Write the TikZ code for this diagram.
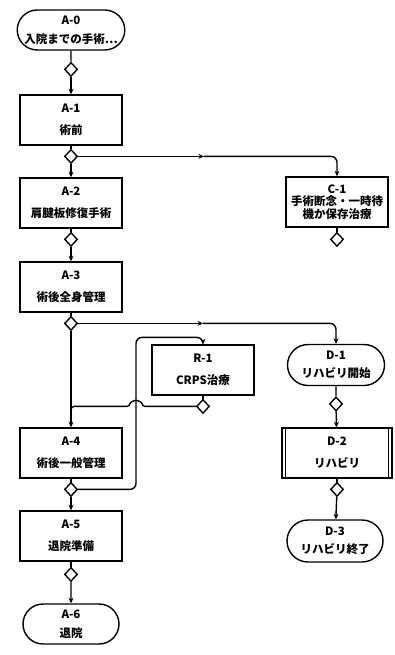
\documentclass[tikz,border=0pt]{standalone}
\usepackage{fontspec}
\setmainfont{Noto Sans CJK JP}
\usepackage{tikz}
\usetikzlibrary{arrows.meta,positioning,calc,shapes}
\tikzset{
  >={Stealth[length=5.5pt,width=5pt]},
  task/.style={rectangle, draw, line width=1.4pt, minimum width=102pt, minimum height=50pt, align=center, inner sep=1pt},
  term/.style={rounded rectangle, draw, line width=1.4pt, minimum width=98pt, minimum height=40pt, align=center, inner sep=1pt},
  gate/.style={diamond, draw, line width=1.4pt, fill=white, inner sep=0pt, minimum width=13pt, minimum height=14pt},
  flow/.style={line width=1.4pt}
}

\begin{document}
\begin{tikzpicture}[x=1pt, y=1pt, node distance=83pt, font=\fontsize{11.5}{13}\selectfont\bfseries]
\useasboundingbox (0,0) rectangle (395,-655);

% main column
\node (a0) [term] at (71,-30) {A-0\\[6pt]入院までの手術…};
\node (a1) [task, below of=a0, yshift=-7pt] {A-1\\[9pt]術前};
\node (a2) [task, below of=a1] {A-2\\[9pt]肩腱板修復手術};
\node (a3) [task, below of=a2, yshift=-1pt] {A-3\\[9pt]術後全身管理};
\node (a4) [task, below of=a3, node distance=166pt] {A-4\\[9pt]術後一般管理};
\node (a5) [task, below of=a4] {A-5\\[9pt]退院準備};
\node (a6) [term, below of=a5, yshift=-5pt] {A-6\\[6pt]退院};

% side branches
\node (c1) [task, right of=a2, node distance=266pt, yshift=1pt, font=\fontsize{11.5}{12.5}\selectfont\bfseries] {C-1\\手術断念・一時待\\機か保存治療};
\node (r1) [task, right of=a3, node distance=132pt, yshift=-83pt] {R-1\\[9pt]CRPS治療};
\node (d1) [term, right of=r1, node distance=133pt, yshift=5pt, minimum width=99pt, minimum height=41pt] {D-1\\[5pt]リハビリ開始};
\node (d2) [task, right of=a4, node distance=266pt, minimum width=110pt] {D-2\\[9pt]リハビリ};
\node (d3) [term, below of=d2, node distance=88pt, xshift=-2pt, minimum height=42pt] {D-3\\[5pt]リハビリ終了};
\draw[flow] ([xshift=4pt]d2.north west) -- ([xshift=4pt]d2.south west);
\draw[flow] ([xshift=-4pt]d2.north east) -- ([xshift=-4pt]d2.south east);

% gates
\node (g0) [gate, below=11pt of a0] {};
\node (g1) [gate, below=3pt of a1] {};
\node (g2) [gate, below=3pt of a2] {};
\node (g3) [gate, below=3pt of a3] {};
\node (g4) [gate, below=3pt of a4] {};
\node (g5) [gate, below=5pt of a5] {};
\node (gc1) [gate, below=4pt of c1] {};
\node (gr1) [gate, below=3pt of r1] {};
\node (gd1) [gate, below=10pt of d1] {};
\node (gd2) [gate, below=3pt of d2] {};

\coordinate (m1) at ($(g1)+(133,0)$);
\coordinate (m3) at ($(g3)+(132,0)$);
\coordinate (lp) at ($(g4)+(65,152)$);

% flows
\draw[flow] (a0) -- (g0);
\draw[flow,->] (g0) -- (a1);
\draw[flow] (a1) -- (g1);
\draw[flow,->] (g1) -- (a2);
\draw[flow,->] (g1) -- (m1);
\draw[flow,->,rounded corners=6pt] (m1) -| (c1);
\draw[flow] (c1) -- (gc1);
\draw[flow] (a2) -- (g2);
\draw[flow,->] (g2) -- (a3);
\draw[flow] (a3) -- (g3);
\draw[flow,->] (g3) -- (a4);
\draw[flow,->] (g3) -- (m3);
\draw[flow,->,rounded corners=6pt] (m3) -| (d1);
\draw[flow] (a4) -- (g4);
\draw[flow,->] (g4) -- (a5);
\draw[flow,->,rounded corners=6pt] (g4) -| (lp) -| (r1);
\draw[flow] (r1) -- (gr1);
\draw[flow,rounded corners=3pt] (gr1) -- ($(lp |- gr1)+(6,0)$) arc[start angle=0, end angle=180, radius=6] -- (g3 |- gr1) -- ($(g3 |- gr1)+(0,-12)$);
\draw[flow] (a5) -- (g5);
\draw[flow,->] (g5) -- (a6);
\draw[flow] (d1) -- (gd1);
\draw[flow,->] (gd1) -- (d2);
\draw[flow] (d2) -- (gd2);
\draw[flow,->] (gd2) -- (d3);

\end{tikzpicture}
\end{document}
